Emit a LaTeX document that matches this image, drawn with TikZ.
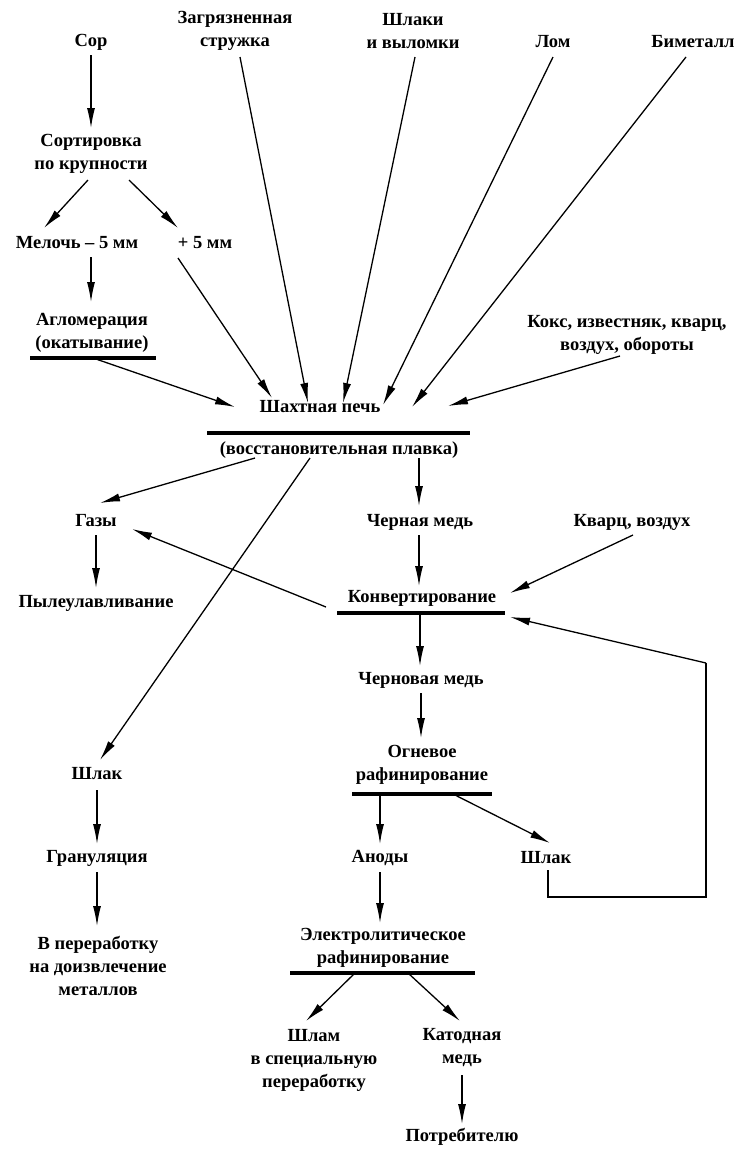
\documentclass[tikz,border=0pt]{standalone}
\usepackage{fontspec}
\setmainfont{Liberation Serif}
\usetikzlibrary{arrows.meta,calc}
\begin{document}
\begin{tikzpicture}[x=1pt,y=-1pt,
  lbl/.style={font=\fontsize{18.5}{23}\selectfont\bfseries, align=center, inner sep=0pt},
  arr/.style={line width=1.3pt, -{Latex[length=20pt,width=8pt]}},
  ln/.style={line width=1.3pt},
  bar/.style={line width=3.5pt}]
\useasboundingbox (0,0) rectangle (751,1149);
% nodes
\node[lbl] (sor) at (91,42) {Сор};
\node[lbl] (struzh) at (235,31) {Загрязненная\\стружка};
\node[lbl] (shlaki) at (413,31) {Шлаки\\и выломки};
\node[lbl] (lom) at (553,42) {Лом};
\node[lbl] (bimet) at (693,42) {Биметалл};
\node[lbl] (sort) at (91,154) {Сортировка\\по крупности};
\node[lbl] (mel) at (77,243) {Мелочь – 5 мм};
\node[lbl] (plus) at (205,243) {+ 5 мм};
\node[lbl] (aglo) at (92,333) {Агломерация\\(окатывание)};
\node[lbl] (koks) at (627,335) {Кокс, известняк, кварц,\\воздух, обороты};
\node[lbl] (pech) at (320,407) {Шахтная печь};
\node[lbl] (vosst) at (339,450) {(восстановительная плавка)};
\node[lbl] (gazy) at (96,521) {Газы};
\node[lbl] (pyl) at (96,603) {Пылеулавливание};
\node[lbl] (chm) at (420,522) {Черная медь};
\node[lbl] (kv) at (632,522) {Кварц, воздух};
\node[lbl] (konv) at (422,598) {Конвертирование};
\node[lbl] (chnm) at (421,680) {Черновая медь};
\node[lbl] (ogn) at (422,765) {Огневое\\рафинирование};
\node[lbl] (shl1) at (97,774) {Шлак};
\node[lbl] (gran) at (97,858) {Грануляция};
\node[lbl] (pere) at (98,966) {В переработку\\на доизвлечение\\металлов};
\node[lbl] (anod) at (380,858) {Аноды};
\node[lbl] (shl2) at (546,858) {Шлак};
\node[lbl] (elek) at (383,948) {Электролитическое\\рафинирование};
\node[lbl] (shlam) at (314,1060) {Шлам\\в специальную\\переработку};
\node[lbl] (kat) at (462,1048) {Катодная\\медь};
\node[lbl] (potr) at (462,1137) {Потребителю};
% bars
\coordinate (agloL) at (30,358); \coordinate (agloR) at (156,358);
\coordinate (pechL) at (207,433); \coordinate (pechR) at (470,433);
\coordinate (konvL) at (337,613); \coordinate (konvR) at (505,613);
\coordinate (ognL) at (352,794); \coordinate (ognR) at (492,794);
\coordinate (elekL) at (290,973); \coordinate (elekR) at (475,973);
\draw[bar] (agloL) -- (agloR);
\draw[bar] (pechL) -- (pechR);
\draw[bar] (konvL) -- (konvR);
\draw[bar] (ognL) -- (ognR);
\draw[bar] (elekL) -- (elekR);
% arrows
\draw[arr] (91,55) -- (91,128);
\draw[arr] (88,180) -- (44,228);
\draw[arr] (129,180) -- (178,228);
\draw[arr] (91,257) -- (91,302);
\draw[arr] (178,258) -- (272,398);
\draw[arr] (93,358) -- (235,407);
\draw[arr] (240,57) -- (308,403);
\draw[arr] (415,57) -- (343,403);
\draw[arr] (553,57) -- (383,405);
\draw[arr] (686,57) -- (412,407);
\draw[arr] (620,356) -- (448,406);
\draw[arr] (255,458) -- (100,503);
\draw[arr] (310,458) -- (100,760);
\draw[arr] (96,535) -- (96,588);
\draw[arr] (419,458) -- (419,506);
\draw[arr] (419,535) -- (419,586);
\draw[arr] (633,535) -- (510,593);
\draw[arr] (326,607) -- (132,529);
\draw[arr] (420,613) -- (420,666);
\draw[arr] (421,693) -- (421,738);
\draw[arr] (380,794) -- (380,844);
\draw[arr] (455,795) -- (550,843);
\draw[ln] (548,870) -- (548,897) -- (706,897) -- (706,663);
\draw[arr] (706,663) -- (510,617);
\draw[arr] (97,790) -- (97,844);
\draw[arr] (97,872) -- (97,926);
\draw[arr] (380,872) -- (380,923);
\draw[arr] (355,973) -- (306,1021);
\draw[arr] (408,973) -- (460,1021);
\draw[arr] (462,1075) -- (462,1124);
\end{tikzpicture}
\end{document}
